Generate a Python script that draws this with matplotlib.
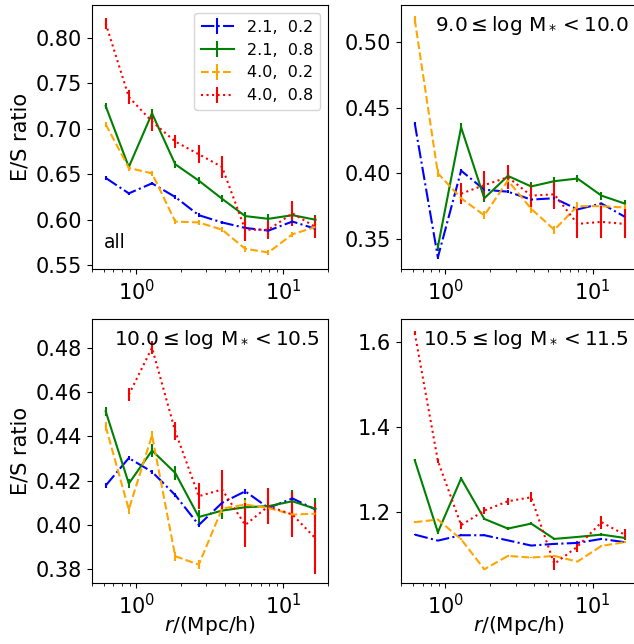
import numpy as np
import matplotlib
matplotlib.use("Agg")
import matplotlib.pyplot as plt

r = [0.62, 0.89, 1.28, 1.84, 2.66, 3.83, 5.5, 7.9, 11.5, 16.5]

labels = ["2.1,  0.2", "2.1,  0.8", "4.0,  0.2", "4.0,  0.8"]
colors = ["blue", "green", "orange", "red"]
styles = ["-.", "-", "--", ":"]

nan = np.nan
# panel: all
all_vals = [
    [0.646, 0.629, 0.640, 0.625, 0.605, 0.597, 0.591, 0.588, 0.598, 0.590],
    [0.725, 0.658, 0.717, 0.661, 0.643, 0.623, 0.604, 0.601, 0.605, 0.600],
    [0.705, 0.657, 0.651, 0.598, 0.597, 0.589, 0.568, 0.564, 0.584, 0.592],
    [0.816, 0.735, 0.708, 0.686, 0.672, 0.658, 0.589, 0.589, 0.607, 0.592],
]
all_errs = [
    [0.002] * 10,
    [0.003, 0.003, 0.005, 0.004, 0.004, 0.004, 0.005, 0.005, 0.005, 0.005],
    [0.003] * 10,
    [0.006, 0.008, 0.01, 0.007, 0.01, 0.012, 0.012, 0.01, 0.014, 0.012],
]
# panel: 9.0-10.0
m1_vals = [
    [0.438, 0.336, 0.402, 0.3875, 0.386, 0.380, 0.381, 0.3725, 0.377, 0.367],
    [nan, 0.344, 0.435, 0.381, 0.398, 0.390, 0.394, 0.396, 0.383, 0.377],
    [0.517, 0.400, 0.381, 0.368, 0.3945, 0.373, 0.357, 0.375, 0.375, 0.374],
    [nan, nan, 0.3845, 0.391, 0.397, 0.383, 0.384, 0.3615, 0.363, 0.3615],
]
m1_errs = [
    [0.001] * 10,
    [0.003] * 10,
    [0.003] * 10,
    [0.008, 0.008, 0.008, 0.011, 0.009, 0.009, 0.011, 0.011, 0.012, 0.011],
]
# panel: 10.0-10.5
m2_vals = [
    [0.4178, 0.4302, 0.424, 0.4135, 0.400, 0.410, 0.4152, 0.4077, 0.412, 0.407],
    [0.4513, 0.4187, 0.4336, 0.4235, 0.4036, 0.4065, 0.408, 0.4085, 0.4107, 0.4073],
    [0.4445, 0.407, 0.4405, 0.3859, 0.3821, 0.4074, 0.4092, 0.4077, 0.4047, 0.4051],
    [nan, 0.4588, 0.480, 0.4423, 0.413, 0.416, 0.400, 0.4085, 0.4047, 0.394],
]
m2_errs = [
    [0.001] * 10,
    [0.002, 0.002, 0.003, 0.003, 0.003, 0.004, 0.004, 0.004, 0.005, 0.005],
    [0.002] * 10,
    [0.003, 0.003, 0.003, 0.004, 0.006, 0.009, 0.01, 0.008, 0.01, 0.016],
]
# panel: 10.5-11.5
m3_vals = [
    [1.1475, 1.1334, 1.146, 1.146, 1.134, 1.1218, 1.1257, 1.128, 1.1374, 1.1297],
    [1.3219, 1.153, 1.279, 1.1843, 1.1616, 1.1733, 1.1374, 1.142, 1.1475, 1.1398],
    [1.1766, 1.1828, 1.1365, 1.0662, 1.0975, 1.0936, 1.0975, 1.0842, 1.121, 1.1297],
    [1.620, 1.3206, 1.1696, 1.2037, 1.2257, 1.235, 1.0788, 1.1194, 1.1766, 1.1475],
]
m3_errs = [
    [0.002] * 10,
    [0.003] * 10,
    [0.002] * 10,
    [0.005, 0.005, 0.008, 0.008, 0.008, 0.012, 0.015, 0.012, 0.015, 0.012],
]

panel_texts = ["all",
               r"$9.0\leq\log\,\mathrm{M}_*<10.0$",
               r"$10.0\leq\log\,\mathrm{M}_*<10.5$",
               r"$10.5\leq\log\,\mathrm{M}_*<11.5$"]
ylims = [(0.5456, 0.836), (0.327, 0.528), (0.3738, 0.493), (1.034, 1.653)]

plt.rcParams["font.size"] = 15
plt.rcParams["mathtext.fontset"] = "dejavusans"

fig = plt.figure(figsize=(6.34, 6.44), dpi=100)
W, H = 0.372, 0.41
positions = [(0.145, 0.582), (0.6325, 0.582), (0.145, 0.0947), (0.6325, 0.0947)]
data = [(all_vals, all_errs), (m1_vals, m1_errs), (m2_vals, m2_errs), (m3_vals, m3_errs)]

for i, (pos, (vals, errs)) in enumerate(zip(positions, data)):
    ax = fig.add_axes([pos[0], pos[1], W, H])
    for j in range(4):
        ax.errorbar(r, vals[j], yerr=errs[j], color=colors[j], ls=styles[j],
                    lw=1.5, elinewidth=1.5, label=labels[j])
    ax.set_xscale("log")
    ax.set_xlim(0.5, 20)
    ax.set_ylim(*ylims[i])
    if i % 2 == 0:
        ax.set_ylabel("E/S ratio")
    if i >= 2:
        ax.set_xlabel(r"$r$/(Mpc/h)", fontsize=14.5, labelpad=-3)
    if i == 0:
        ax.text(0.05, 0.065, panel_texts[i], transform=ax.transAxes,
                ha="left", va="bottom", fontsize=13.5)
        ax.legend(loc="upper right", fontsize=11.5, handlelength=2.1)
    else:
        ax.text(0.965, 0.965, panel_texts[i], transform=ax.transAxes,
                ha="right", va="top", fontsize=14.4)

fig.savefig("out.png", dpi=100)
